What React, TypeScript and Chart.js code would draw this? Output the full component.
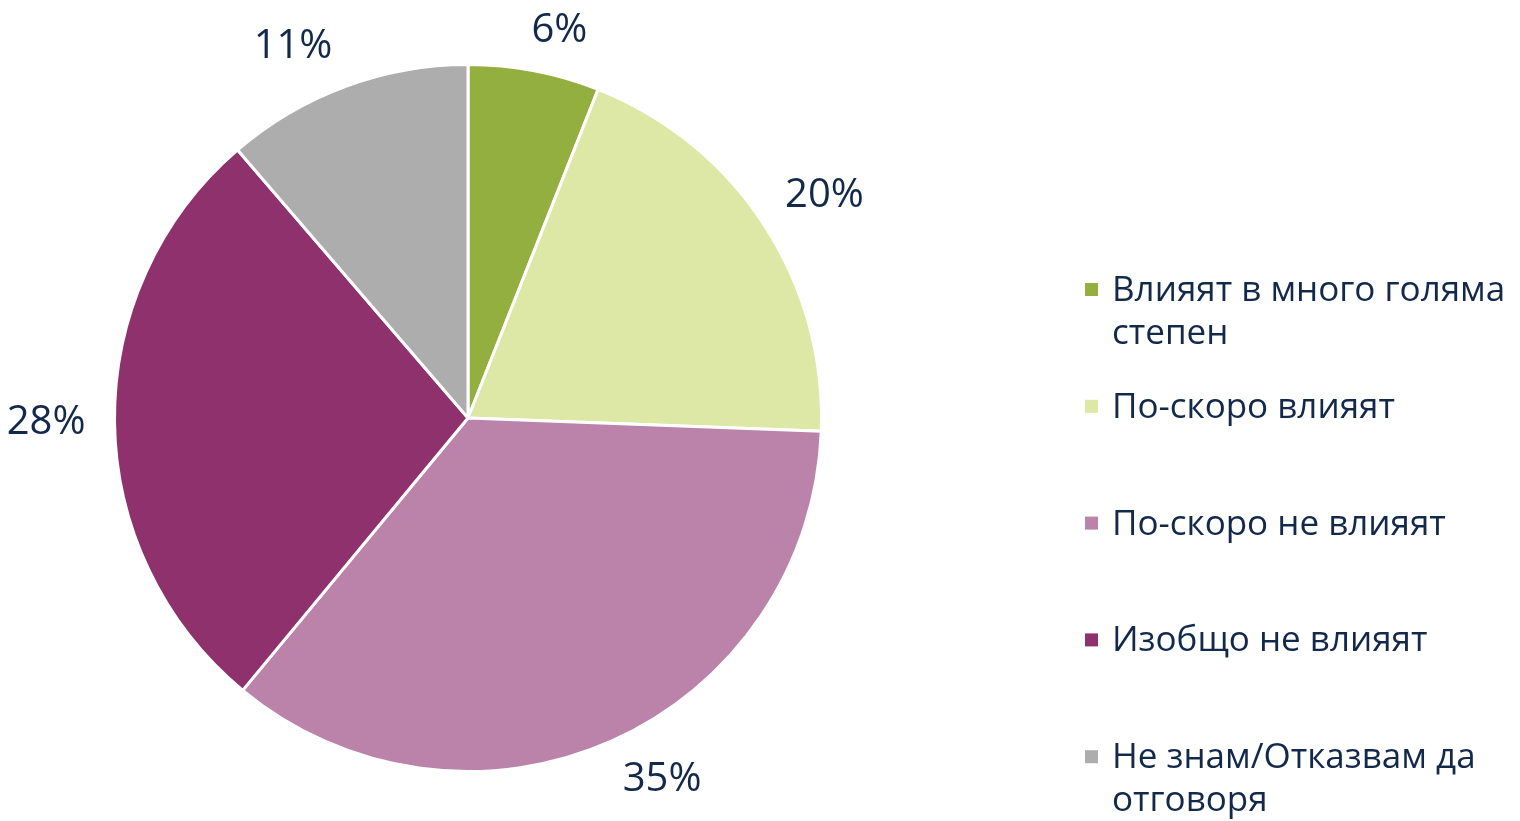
import React, { useEffect, useRef } from "react";
import { Chart, registerables } from "chart.js";

Chart.register(...registerables);

const categories: string[][] = [
  ["Влияят в много голяма", "степен"],
  ["По-скоро влияят"],
  ["По-скоро не влияят"],
  ["Изобщо не влияят"],
  ["Не знам/Отказвам да", "отговоря"],
];
const values: number[] = [6.0, 19.6, 35.4, 27.7, 11.3];
const valueLabels: string[] = ["6%", "20%", "35%", "28%", "11%"];
const colors: string[] = ["#93AF3F", "#DDE8A6", "#BB83A9", "#8E316D", "#ADADAD"];

const TEXT = "#13294B";
const FONT = "'Open Sans', 'Noto Sans', sans-serif";

const labelPlugin = {
  id: "outLabels",
  afterDatasetsDraw(chart: any) {
    const ctx = chart.ctx;
    const meta = chart.getDatasetMeta(0);
    ctx.save();
    ctx.fillStyle = TEXT;
    ctx.font = `40px ${FONT}`;
    ctx.textAlign = "center";
    ctx.textBaseline = "middle";
    const gap = 25;
    const h = 32;
    meta.data.forEach((arc: any, i: number) => {
      const mid = (arc.startAngle + arc.endAngle) / 2;
      const ux = Math.cos(mid);
      const uy = Math.sin(mid);
      const w = ctx.measureText(valueLabels[i]).width + 4;
      const r = arc.outerRadius + gap;
      const fx = Math.min(1, Math.abs(ux) * 4);
      const fy = Math.min(1, Math.abs(uy) * 4);
      const cx = arc.x + ux * r + Math.sign(ux) * fx * (w / 2);
      const cy = arc.y + uy * r + Math.sign(uy) * fy * (h / 2);
      ctx.fillText(valueLabels[i], cx - 2, cy);
    });
    ctx.restore();
  },
};

const legendPlugin = {
  id: "sideLegend",
  afterDraw(chart: any) {
    const ctx = chart.ctx;
    ctx.save();
    ctx.font = `35px ${FONT}`;
    ctx.textBaseline = "middle";
    ctx.textAlign = "left";
    const x0 = 1085;
    const y0 = 290;
    const step = 116.8;
    const lineH = 43;
    categories.forEach((lines, i) => {
      const y = y0 + i * step;
      ctx.fillStyle = colors[i];
      ctx.fillRect(x0, y - 7, 13, 13);
      ctx.fillStyle = TEXT;
      lines.forEach((t, j) => ctx.fillText(t, x0 + 27, y + 1 + j * lineH));
    });
    ctx.restore();
  },
};

export default function App() {
  const ref = useRef<HTMLCanvasElement>(null);
  useEffect(() => {
    document.body.style.margin = "0";
    const chart = new Chart(ref.current!, {
      type: "pie",
      data: {
        labels: categories.map((c) => c.join(" ")),
        datasets: [
          {
            data: values,
            backgroundColor: colors,
            borderColor: "#FFFFFF",
            borderWidth: 3,
            hoverOffset: 0,
          },
        ],
      },
      options: {
        animation: false,
        responsive: false,
        events: [],
        layout: { padding: { left: 113, top: 63, right: 697, bottom: 48 } },
        plugins: { legend: { display: false }, tooltip: { enabled: false } },
      },
      plugins: [labelPlugin, legendPlugin],
    });
    return () => chart.destroy();
  }, []);
  return (
    <div style={{ position: "absolute", left: 0, top: 0, width: 1520, height: 821, background: "#fff" }}>
      <canvas ref={ref} width={1520} height={821} style={{ width: 1520, height: 821 }} />
    </div>
  );
}
